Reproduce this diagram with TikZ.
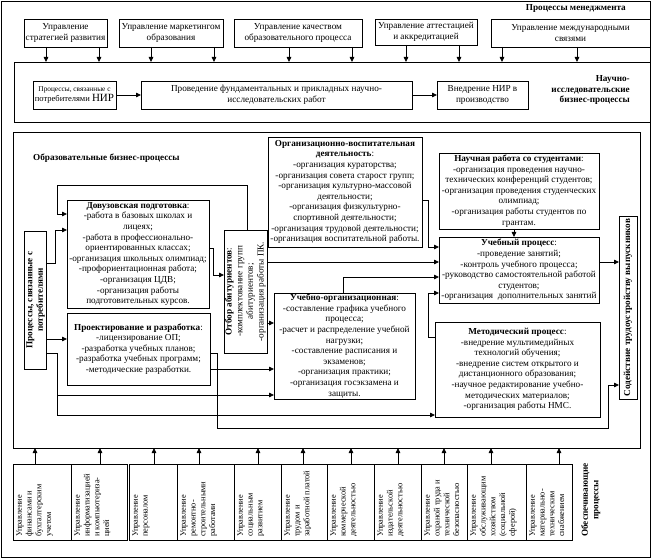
\documentclass[tikz,border=0pt]{standalone}
\usepackage{fontspec}
\setmainfont{Liberation Serif}
\usepackage{graphicx}
\usetikzlibrary{arrows.meta,calc}
\newcommand\fntbody{\fontsize{9.2}{10.6}\selectfont}
\newcommand\fntsmall{\fontsize{8.3}{9.7}\selectfont}
\newcommand\rtext[2]{\rotatebox{90}{\begin{tabular}{@{}#1@{}}#2\end{tabular}}}
\newcommand\mkbox[7]{\node[#6, minimum width={(#4)-(#2)}, minimum height={(#5)-(#3)}] (#1) at ({((#2)+(#4))/2},{((#3)+(#5))/2}) {#7};}
\begin{document}
\begin{tikzpicture}[x=1pt,y=-1pt,
  box/.style={draw, line width=0.8pt, inner sep=0.3pt, outer sep=0pt, align=center, font=\fntbody},
  frame/.style={draw, line width=0.8pt, inner sep=0pt, outer sep=0pt},
  lbl/.style={font=\fntbody\bfseries, inner sep=0pt, align=center},
  btxt/.style={font=\fntsmall, inner sep=0pt, anchor=south west},
  arr/.style={line width=0.8pt, -{Triangle[length=5pt,width=4.5pt]}},
  ln/.style={line width=0.8pt}
]
\useasboundingbox (0,0) rectangle (654,559);
% frames
\mkbox{outer}{1}{1}{650}{557}{frame}{}
\mkbox{nir}{14}{62}{650}{122}{frame}{}
\mkbox{edu}{13}{132}{640}{448}{frame}{}
% management processes
\node[lbl, anchor=east] (mgmt) at (626,8) {Процессы менеджмента};
\mkbox{t1}{24}{19}{107}{47}{box}{Управление\\стратегией развития}
\mkbox{t2}{119}{19}{223}{47}{box}{Управление маркетингом\\образования}
\mkbox{t3}{234}{19}{362}{47}{box}{Управление качеством\\образовательного процесса}
\mkbox{t4}{375}{19}{477}{45}{box}{Управление аттестацией\\и аккредитацией}
\mkbox{t5}{491}{19}{650}{47}{box}{Управление международными\\связями}
\foreach \n/\x in {t1/46, t1/99, t2/151, t2/214, t3/289, t3/352, t4/406, t4/459, t5/502, t5/577}
  \draw[arr] (\n.south -| \x,0) -- (nir.north -| \x,0);
% research processes
\mkbox{na}{33}{81}{116}{109}{box}{{\fontsize{7.3}{9}\selectfont Процессы, связанные с}\\{\fontsize{8.5}{11}\selectfont потребителями \fontsize{11}{12}\selectfont НИР}}
\mkbox{nb}{141}{81}{412}{109}{box}{Проведение фундаментальных и прикладных научно-\\исследовательских работ}
\mkbox{nc}{437}{81}{528}{109}{box}{Внедрение НИР в\\производство}
\node[lbl, anchor=east, align=right] (nirl) at (630,90) {Научно-\\исследовательские\\бизнес-процессы};
\draw[arr] (na) -- (nb);
\draw[arr] (nb) -- (nc);
% educational processes
\node[lbl, anchor=west] (edul) at (33,158) {Образовательные бизнес-процессы};
\mkbox{dovuz}{67}{200}{209}{308}{box}{\textbf{Довузовская подготовка}:\\-работа в базовых школах и\\лицеях;\\-работа в профессионально-\\ориентированных классах;\\-организация школьных олимпиад;\\-профориентационная работа;\\-организация ЦДВ;\\-организация работы\\подготовительных курсов.}
\mkbox{proj}{67}{313}{210}{385}{box}{\textbf{Проектирование и разработка}:\\-лицензирование ОП;\\-разработка учебных планов;\\-разработка учебных программ;\\-методические разработки.}
\mkbox{lv}{25}{231}{46}{369}{box}{\rtext{c}{\textbf{Процессы, связанные с}\\\textbf{потребителями}}}
\mkbox{otbor}{224}{230}{267}{353}{box}{\rtext{c}{\textbf{Отбор абитуриентов}:\\-комплектование групп\\абитуриентов;\\-организация работы ПК.}}
\mkbox{orgv}{268}{137}{422}{247}{box}{\textbf{Организационно-воспитательная}\\\textbf{деятельность}:\\-организация кураторства;\\-организация совета старост групп;\\-организация культурно-массовой\\деятельности;\\-организация физкультурно-\\спортивной деятельности;\\-организация трудовой деятельности;\\-организация воспитательной работы.}
\mkbox{nauch}{439}{153}{599}{229}{box}{\textbf{Научная работа со студентами}:\\-организация проведения научно-\\технических конференций студентов;\\-организация проведения студенческих\\олимпиад;\\-организация работы студентов по\\грантам.}
\mkbox{uch}{439}{237}{599}{303}{box}{\textbf{Учебный процесс}:\\-проведение занятий;\\-контроль учебного процесса;\\-руководство самостоятельной работой\\студентов;\\-организация\ \ дополнительных занятий}
\mkbox{uchorg}{274}{293}{415}{399}{box}{\textbf{Учебно-организационная}:\\-составление графика учебного\\процесса;\\-расчет и распределение учебной\\нагрузки;\\-составление расписания и\\экзаменов;\\-организация практики;\\-организация госэкзамена и\\защиты.}
\mkbox{metod}{435}{322}{600}{417}{box}{\textbf{Методический процесс}:\\-внедрение мультимедийных\\технологий обучения;\\-внедрение систем открытого и\\дистанционного образования;\\-научное редактирование учебно-\\методических материалов;\\-организация работы НМС.}
\mkbox{sod}{619}{216}{637}{399}{box}{\rtext{c}{\textbf{Содействие трудоустройству выпускников}}}
% connectors
\draw[arr] (otbor.north -| 247,0) -- (247,185) -- (57,185) |- (dovuz.west |- 0,214);
\draw[arr] (lv.east |- 0,263) -- (55,263) |- (dovuz.west |- 0,230);
\draw[arr] (lv.east |- 0,339) -- (proj.west |- 0,339);
\draw[arr] (lv.east |- 0,353) -- (57,353) |- (metod.west |- 0,415);
\coordinate (j1) at (57,395);
\draw[arr] (j1) -- (uchorg.west |- j1);
\draw[arr] (proj.east |- 0,353) -- (217,353) -- (217,428) -- (608,428) |- (sod.west |- 0,385);
\draw[arr] (proj.east |- 0,369) -- (uchorg.west |- 0,369);
\draw[arr] (dovuz.east |- 0,248) -- (213,248) |- (otbor.west |- 0,275);
\draw[arr] (otbor.east |- 0,323) -- (uchorg.west |- 0,323);
\draw[arr] (otbor.east |- 0,262) -- (uch.west |- 0,262);
\draw[arr] (orgv.east |- 0,200) -- (428,200) |- (uch.west |- 0,247);
\draw[arr] (uchorg.north -| 343,0) |- (uch.west |- 0,277);
\draw[arr] (metod.west |- 0,337) -- (428,337) |- (uch.west |- 0,293);
\draw[arr] (nauch.south -| 514,0) -- (uch.north -| 514,0);
\draw[arr] (uch.east |- 0,262) -- (sod.west |- 0,262);
% support processes
\mkbox{b1}{13}{464}{71}{540}{box}{}
\mkbox{b2}{71}{464}{127}{540}{box}{}
\mkbox{b3}{129}{464}{177}{540}{box}{}
\mkbox{b4}{177}{464}{234}{540}{box}{}
\mkbox{b5}{234}{464}{281}{540}{box}{}
\mkbox{b6}{281}{464}{327}{540}{box}{}
\mkbox{b7}{327}{464}{374}{540}{box}{}
\mkbox{b8}{374}{464}{421}{540}{box}{}
\mkbox{b9}{421}{464}{467}{540}{box}{}
\mkbox{b10}{467}{464}{526}{540}{box}{}
\mkbox{b11}{526}{464}{572}{540}{box}{}
\foreach \n/\t in {b1/{Управление\\финансами и\\бухгалтерским\\учетом},
  b2/{Управление\\информатизацией\\и компьютериза-\\цией},
  b3/{Управление\\персоналом},
  b4/{Управление\\ремонтно-\\строительными\\работами},
  b5/{Управление\\социальным\\развитием},
  b6/{Управление\\трудом и\\заработной платой},
  b7/{Управление\\коммерческой\\деятельностью},
  b8/{Управление\\издательской\\деятельностью},
  b9/{Управление\\охраной труда и\\технической\\безопасностью},
  b10/{Управление\\обслуживающим\\хозяйством\\(социальной\\сферой)},
  b11/{Управление\\материально-\\техническим\\снабжением}}
  \node[btxt, xshift=2pt, yshift=3pt] (\n t) at (\n.south west) {\rtext{l}{\t}};
\foreach \n/\x in {b1/35, b2/100, b3/154, b4/199, b5/258, b6/303, b7/351, b8/398, b9/444, b10/491, b11/559}
  \draw[arr] (\n.north -| \x,0) -- (edu.south -| \x,0);
\node[lbl] (obl) at (591,500) {\rtext{c}{Обеспечивающие\\процессы}};
\end{tikzpicture}
\end{document}
